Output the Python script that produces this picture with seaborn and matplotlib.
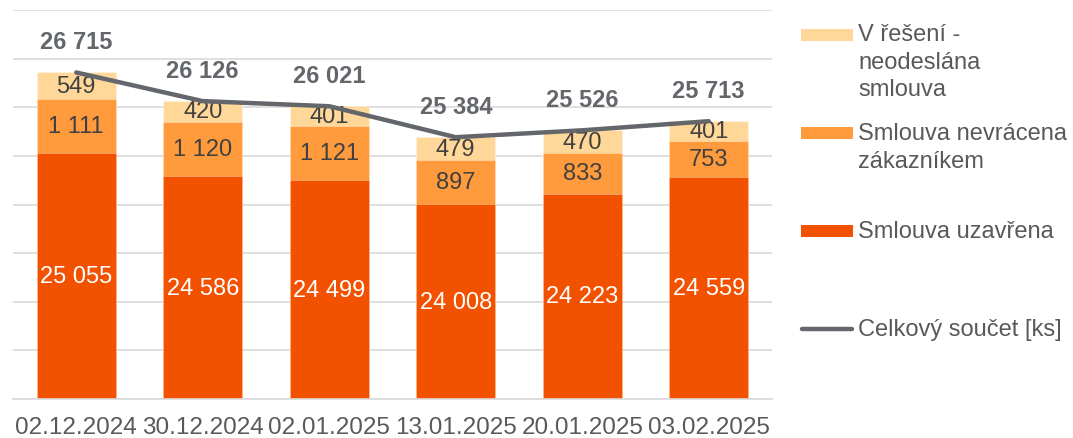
import numpy as np
import matplotlib
matplotlib.use("Agg")
import matplotlib.pyplot as plt
from matplotlib.patches import Rectangle
from matplotlib.lines import Line2D
import seaborn as sns

# ---- data ----
categories = ["02.12.2024", "30.12.2024", "02.01.2025", "13.01.2025", "20.01.2025", "03.02.2025"]
smlouva_uzavrena = [25055, 24586, 24499, 24008, 24223, 24559]
smlouva_nevracena = [1111, 1120, 1121, 897, 833, 753]
v_reseni = [549, 420, 401, 479, 470, 401]
celkovy_soucet = [26715, 26126, 26021, 25384, 25526, 25713]
legend_labels = ["V řešení -\nneodeslána\nsmlouva", "Smlouva nevrácena\nzákazníkem",
                 "Smlouva uzavřena", "Celkový součet [ks]"]

c_bottom = "#F25100"
c_mid = "#FF9B3C"
c_top = "#FFD899"
c_line = "#63666A"
c_text = "#595959"
c_lab = "#404040"
c_grid = "#D9D9D9"

sns.set_style("white")
plt.rcParams["font.family"] = ["Liberation Sans", "DejaVu Sans"]
FS = 17

fig = plt.figure(figsize=(10.73, 4.39), dpi=100)
W, H = 1073, 439
ax = fig.add_axes([13 / W, 1 - 400 / H, (772 - 13) / W, (400 - 11) / H])

ymin, ymax = 20000, 28000
b = np.array(smlouva_uzavrena)
m = np.array(smlouva_nevracena)
t = np.array(v_reseni)
cum1 = b
cum2 = b + m
cum3 = b + m + t

bw = 0.625
for vals, col in [(cum3, c_top), (cum2, c_mid), (cum1, c_bottom)]:
    sns.barplot(x=categories, y=vals, color=col, saturation=1, width=bw, ax=ax,
                edgecolor=(1, 1, 1, 0.35), linewidth=0.6, zorder=2)

sns.lineplot(x=np.arange(len(categories)), y=celkovy_soucet, color=c_line, linewidth=3.2,
             ax=ax, zorder=5, solid_capstyle="round")

ax.set_ylim(ymin, ymax)
ax.set_xlim(-0.5, len(categories) - 0.5)
ax.set_yticks(np.arange(ymin, ymax + 1, 1000))
ax.set_yticklabels([])
ax.tick_params(axis="y", length=0)
ax.grid(axis="y", color=c_grid, linewidth=1.2, zorder=0)
ax.set_axisbelow(True)
for s in ["left", "right", "top"]:
    ax.spines[s].set_visible(False)
ax.spines["bottom"].set_color(c_grid)
ax.spines["bottom"].set_linewidth(1.2)
ax.set_xticks(np.arange(len(categories)))
ax.set_xticklabels(categories)
ax.tick_params(axis="x", which="major", length=0, pad=12, labelsize=17.5, labelcolor=c_text)
ax.set_xticks(np.arange(-0.5, len(categories), 1.0), minor=True)
ax.tick_params(axis="x", which="minor", length=6, width=1.2, color=c_grid)
ax.set_xlabel("")
ax.set_ylabel("")

def fmt(v):
    return f"{v:,}".replace(",", " ")

for i in range(len(categories)):
    ax.text(i, (ymin + b[i]) / 2, fmt(b[i]), ha="center", va="center", color="white",
            fontsize=FS, zorder=6)
    ax.text(i, b[i] + m[i] / 2, fmt(m[i]), ha="center", va="center", color=c_lab,
            fontsize=FS, zorder=6)
    ax.text(i, cum2[i] + t[i] / 2, fmt(t[i]), ha="center", va="center", color=c_lab,
            fontsize=FS, zorder=4)
    ax.annotate(fmt(celkovy_soucet[i]), (i, celkovy_soucet[i]), xytext=(0, 31),
                textcoords="offset pixels", ha="center", va="center", color=c_line,
                fontsize=FS, fontweight="bold", zorder=7)

# ---- legend (pixel overlay) ----
lax = fig.add_axes([0, 0, 1, 1])
lax.set_xlim(0, W)
lax.set_ylim(H, 0)
lax.axis("off")
lax.patch.set_alpha(0)

entries = [
    (c_top, "patch", 35.5, legend_labels[0].split("\n"), [35, 63, 90]),
    (c_mid, "patch", 133.5, legend_labels[1].split("\n"), [134, 162]),
    (c_bottom, "patch", 232, legend_labels[2].split("\n"), [232]),
    (c_line, "line", 330, legend_labels[3].split("\n"), [330]),
]
for col, kind, yc, lines, ys in entries:
    if kind == "patch":
        lax.add_patch(Rectangle((801, yc - 6), 52, 12, color=col, lw=0))
    else:
        lax.add_line(Line2D([802, 852], [yc, yc], color=col, linewidth=3.2,
                            solid_capstyle="round"))
    for txt, yy in zip(lines, ys):
        lax.text(858, yy, txt, ha="left", va="center", fontsize=FS, color=c_text)

fig.savefig("out.png", dpi=100)
